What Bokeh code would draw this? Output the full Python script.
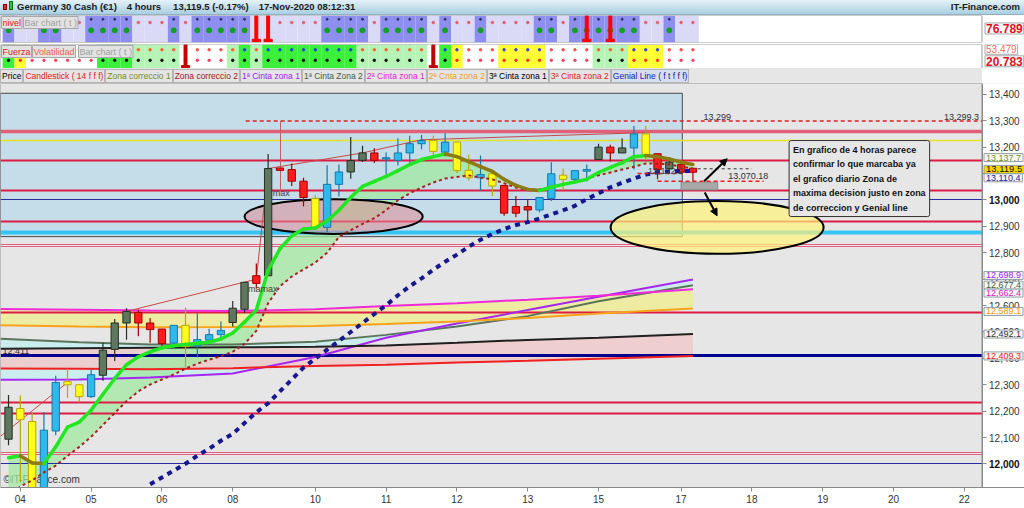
from bokeh.plotting import figure
from bokeh.models import (Range1d, FixedTicker, NumeralTickFormatter, Label, Div, Arrow,
                          NormalHead, LinearAxis)
from bokeh.layouts import column
from bokeh.embed import file_html
from bokeh.resources import INLINE

FONT = "Liberation Sans"

# ---------------- data ----------------
day_ticks = [1, 7, 13, 19, 26, 32, 38, 44, 50, 57, 63, 69, 75, 81]
day_labels = ["04", "05", "06", "08", "10", "11", "12", "13", "15", "17", "18", "19", "20", "22"]
price_ticks = [12000, 12100, 12200, 12300, 12400, 12500, 12600, 12700,
               12800, 12900, 13000, 13100, 13200, 13300, 13400]

# candle colour class: G dark green, Y yellow, C cyan, R red
candle_cat = list("GYYCCYYCGG" "GRRRCYCCCG" "GRGRRRYCCG" "GRCCCCYCYY" "CYRRRCCYCC" "GRGCYRGRR")
body_top = [12215, 12210, 12161, 12128, 12309, 12312, 12300, 12338, 12431, 12534,
            12578, 12574, 12534, 12511, 12525, 12525, 12471, 12490, 12506, 12590,
            12688, 12713, 13119, 13121, 13115, 13071, 13006, 13059, 13106, 13149,
            13178, 13178, 13160, 13178, 13213, 13225, 13225, 13219, 13219, 13112,
            13096, 13099, 13055, 12975, 12975, 13009, 13099, 13094, 13111, 13115,
            13200, 13200, 13197, 13250, 13250, 13175, 13143, 13134, 13120]
body_bottom = [12094, 12168, 11890, 11890, 12125, 12300, 12255, 12255, 12336, 12434,
               12534, 12534, 12509, 12456, 12458, 12445, 12447, 12469, 12490, 12536,
               12586, 12684, 12713, 13112, 13071, 13009, 12894, 12896, 13059, 13106,
               13150, 13150, 13155, 13150, 13178, 13213, 13184, 13181, 13112, 13084,
               13084, 13053, 12950, 12950, 12962, 12962, 13006, 13078, 13078, 13109,
               13153, 13178, 13178, 13197, 13171, 13115, 13118, 13105, 13105]
wick_high = [12261, 12259, 12195, 12196, 12334, 12362, 12300, 12359, 12459, 12549,
             12590, 12584, 12553, 12511, 12525, 12593, 12571, 12512, 12540, 12617,
             12688, 12759, 13174, 13121, 13138, 13084, 13018, 13131, 13134, 13238,
             13205, 13196, 13180, 13234, 13243, 13246, 13243, 13253, 13219, 13171,
             13168, 13099, 13055, 13015, 13003, 13009, 13143, 13119, 13111, 13134,
             13213, 13209, 13234, 13280, 13280, 13175, 13163, 13134, 13120]
wick_low = [12071, 11930, 11880, 11880, 12109, 12250, 12234, 12250, 12315, 12390,
            12471, 12484, 12459, 12446, 12437, 12365, 12403, 12452, 12471, 12521,
            12572, 12665, 12713, 13112, 13053, 12975, 12894, 12878, 13013, 13080,
            13144, 13140, 13096, 13130, 13135, 13192, 13169, 13165, 13102, 13074,
            13034, 13015, 12940, 12934, 12921, 12953, 12996, 13040, 13065, 13071,
            13153, 13146, 13178, 13115, 13153, 13078, 13103, 13105, 13071]

# fast band line (green rising / olive falling) and slow dotted line
fast_line = [12024, 12031, 12004, 12002, 12065, 12140, 12159, 12204, 12264, 12324,
             12376, 12406, 12425, 12440, 12448, 12453, 12457, 12461, 12474, 12496,
             12538, 12583, 12733, 12815, 12864, 12890, 12894, 12920, 12961, 13010,
             13051, 13070, 13089, 13111, 13134, 13153, 13164, 13174, 13164, 13145,
             13126, 13108, 13078, 13055, 13040, 13036, 13048, 13059, 13068, 13078,
             13104, 13123, 13141, 13164, 13168, 13164, 13155, 13143, 13134]
slow_line = [11878, 11915, 11938, 11968, 11994, 12031, 12065, 12103, 12148, 12193,
             12238, 12275, 12301, 12320, 12339, 12361, 12380, 12395, 12408, 12425,
             12455, 12504, 12609, 12673, 12710, 12737, 12763, 12800, 12860, 12886,
             12909, 12931, 12961, 12999, 13025, 13047, 13066, 13081, 13087, 13093,
             13085, 13078, 13063, 13047, 13038, 13040, 13050, 13059, 13070, 13081,
             13093, 13104, 13115, 13126, 13138, 13138, 13134, 13126, 13119]
# Genial line, from candle 12 on
genial_start = 12
genial_line = [11923, 11949, 11975, 12001, 12031, 12058, 12088, 12114, 12155, 12196,
               12230, 12275, 12320, 12365, 12399, 12433, 12466, 12500, 12534, 12568,
               12601, 12639, 12673, 12703, 12736, 12766, 12793, 12823, 12849, 12871,
               12890, 12905, 12916, 12930, 12945, 12961, 12978, 13003, 13025, 13048,
               13065, 13081, 13096, 13105, 13108, 13110, 13110]

# long term ribbons (sampled at these candle positions)
band_idx = [-0.68, 6, 12, 19, 26, 32, 38, 44, 50, 58]
band_magenta = [12587, 12584, 12581, 12579, 12586, 12598, 12609, 12622, 12637, 12662]
band_orange = [12525, 12521, 12518, 12519, 12523, 12530, 12540, 12553, 12570, 12589]
band_graygreen = [12474, 12461, 12453, 12453, 12463, 12489, 12521, 12560, 12616, 12677]
band_purple = [12319, 12320, 12328, 12343, 12405, 12478, 12532, 12583, 12633, 12699]
band_black = [12436, 12438, 12440, 12442, 12444, 12449, 12459, 12470, 12478, 12492]
band_red = [12362, 12361, 12359, 12363, 12371, 12376, 12384, 12391, 12399, 12409]

# horizontal levels
levels = [13258, 13227, 13150, 13034, 13000, 12917, 12878, 12833, 12822,
          12574, 12411, 12232, 12190, 12043, 12035, 12000]
level_kind = ["pink", "yellow", "red", "red", "navy", "red", "cyan", "pinkthin", "pinkthin",
              "red", "navythick", "red", "red", "pinkthin", "pinkthin", "navy"]
top_level = 13299.3

# right-side value boxes
right_values = [13137.7, 13110.4, 13119.5, 12698.9, 12677.4, 12662.4, 12589.1, 12492.1, 12409.3]

# indicator panels
row1_cat = list("DLLDDLLDDD" "DLLLDLDDDD" "DLLLLLLDDD" "DLDDDDLDLL" "DLLLLDDLDD" "DDDDLLDLL")
row1_bars = [21, 22, 49, 51]
row2_cat = list("GYWWWWWWGG" "GPPPPWWWWP" "GPGGGGGGGG" "PPPPPPWGYW" "WWYYYYWWWW" "PPPYYYWWW")
row2_bars = [15, 36]

idx = list(range(len(body_top)))
W = 1024
X0, XA = -0.68, 82.5                # left edge, price-scale position
X1 = X0 + W / 11.8                  # right edge (11.8 px per candle)
XR = Range1d(X0, X1)

# ---------------- header ----------------
header_html = (
    '<div style="position:relative;width:' + str(W) + 'px;height:15px;overflow:hidden;white-space:nowrap;'
    'background:linear-gradient(#e4f2f8,#a9cfe0);box-sizing:border-box;border-bottom:1px solid #8fb3c4;'
    "font:bold 9.5px 'Liberation Sans';color:#1a1a1a;line-height:14px\">"
    '<span style="position:absolute;left:3px;top:4px;width:4px;height:6px;background:#e03030;border:1px solid #800"></span>'
    '<span style="position:absolute;left:9px;top:1px;width:4px;height:9px;background:#30c030;border:1px solid #070"></span>'
    '<span style="position:absolute;left:17px">Germany 30 Cash (€1)'
    '<span style="margin-left:10px">4 hours</span>'
    '<span style="margin-left:12px">13,119.5 (-0.17%)</span>'
    '<span style="margin-left:10px">17-Nov-2020 08:12:31</span></span>'
    '<span style="position:absolute;right:4px">IT-Finance.com</span></div>'
)
header = Div(text=header_html, width=W, height=15, margin=0)

legend_items = [("Price", "#000000"), ("Candlestick ( 14 f f f)", "#e02020"),
                ("Zona correccio 1", "#7a8a10"), ("Zona correccio 2", "#a01818"),
                ("1ª Cinta zona 1", "#a020f0"), ("1ª Cinta Zona 2", "#3f5f3f"),
                ("2ª Cinta zona 1", "#e020d0"), ("2ª Cnta zona 2", "#f0a020"),
                ("3ª Cinta zona 1", "#000000"), ("3ª Cinta zona 2", "#e02020"),
                ("Genial Line ( f t f f f)", "#1a1aa0")]
spans = "".join(
    '<span style="display:inline-block;box-sizing:border-box;height:14px;line-height:12px;'
    'border:1px solid #b4b4b4;padding:0 1px;color:' + c + ';background:'
    + ("#d6dff0" if t.startswith("Genial") else "#e4e4e4") + '">' + t + '</span>'
    for t, c in legend_items)
legend_html = ('<div style="width:982px;height:15px;overflow:hidden;white-space:nowrap;background:#e6e6e6;'
               "padding-top:1px;box-sizing:border-box;font:8.5px 'Liberation Sans'\">" + spans + '</div>')
legend = Div(text=legend_html, width=W, height=15, margin=0)


# ---------------- indicator rows ----------------
def ind_fig(h, bottom_gap):
    f = figure(frame_width=W, frame_height=h, x_range=XR, y_range=Range1d(0, 100),
               output_backend="svg", toolbar_location=None, x_axis_location=None,
               y_axis_location=None, min_border_left=0, min_border_right=0,
               min_border_top=0, min_border_bottom=bottom_gap,
               background_fill_color="white", border_fill_color="white",
               outline_line_color=None)
    f.grid.visible = False
    return f


def box_label(f, x, y, text, color, xo=0, yo=0, size="9px", bold=False, bg="#e2e2e2",
              align="left", base="top"):
    f.add_layout(Label(x=x, y=y, x_offset=xo, y_offset=yo, text=text, text_color=color,
                       text_font=FONT, text_font_size=size,
                       text_font_style="bold" if bold else "normal",
                       text_align=align, text_baseline=base,
                       background_fill_color=bg, border_line_color="#a8a8a8", padding=1))


r1 = ind_fig(27, 2)
c1 = {"D": "#8e8ef0", "L": "#dadaf7"}
r1.vbar(x=idx, width=1.0, top=100, bottom=0, fill_color=[c1[c] for c in row1_cat], line_color=None)
dk = [i for i, c in enumerate(row1_cat) if c == "D"]
lt = [i for i, c in enumerate(row1_cat) if c == "L"]
r1.scatter(x=dk, y=[45] * len(dk), size=5, color="#11a022")
r1.scatter(x=dk, y=[86] * len(dk), size=2, color="#303060")
r1.scatter(x=lt, y=[74] * len(lt), size=2.5, color="#e06070")
r1.vbar(x=row1_bars, width=0.25, top=100, bottom=4, color="#ff0000")
r1.vbar(x=row1_bars, width=0.7, top=12, bottom=3, color="#ff0000")
r1.quad(left=X0, right=XA, top=100, bottom=0, fill_color=None, line_color="#9a9a9a")
box_label(r1, X0, 100, "nivel", "#e02020", xo=1, yo=-1)
box_label(r1, X0, 100, "Bar chart ( t )", "#a0a0a0", xo=23, yo=-1)
box_label(r1, XA, 52, "76.789", "#e01020", xo=3, size="12px", bold=True, bg="white", base="middle")

r2 = ind_fig(24, 0)
c2 = {"G": "#3af03a", "P": "#b6f4b6", "W": "#ffffff", "Y": "#ffff33"}
top_dot = {"G": "#2040e0", "P": "#ff6030", "W": "#ff5050", "Y": "#4040e0"}
bot_dot = {"G": "#111111", "P": "#111111", "W": "#ff4060", "Y": "#ff3030"}
r2.vbar(x=idx, width=1.0, top=100, bottom=0, fill_color=[c2[c] for c in row2_cat], line_color=None)
r2.scatter(x=idx, y=[78] * len(idx), size=2.5, color=[top_dot[c] for c in row2_cat])
r2.scatter(x=idx, y=[34] * len(idx), size=2.5, color=[bot_dot[c] for c in row2_cat])
r2.vbar(x=row2_bars, width=0.25, top=100, bottom=4, color="#c00000")
r2.vbar(x=row2_bars, width=0.7, top=12, bottom=3, color="#c00000")
r2.quad(left=X0, right=XA, top=100, bottom=0, fill_color=None, line_color="#9a9a9a")
box_label(r2, X0, 100, "Fuerza", "#e02020", xo=1, yo=-1)
box_label(r2, X0, 100, "Volatilidad", "#f06050", xo=32, yo=-1)
box_label(r2, X0, 100, "Bar chart ( t )", "#a0a0a0", xo=78, yo=-1)
box_label(r2, XA, 80, "53.479", "#f07060", xo=3, size="10px", bg="white", base="middle")
box_label(r2, XA, 30, "20.783", "#e01020", xo=3, size="12px", bold=True, bg="white", base="middle")

# ---------------- main chart ----------------
p = figure(width=W, frame_height=404, x_range=XR, y_range=Range1d(11911, 13441),
           output_backend="svg", toolbar_location=None, y_axis_location=None,
           min_border_left=0, min_border_right=0, min_border_top=0, min_border_bottom=0,
           background_fill_color="#e6e6e6", border_fill_color="white",
           outline_line_color=None)
p.grid.visible = False

p.add_layout(Label(x=X0, y=11911, x_offset=3, y_offset=3, text="©IT-Finance.com",
                   text_font=FONT, text_font_size="10px", text_color="#333333",
                   text_baseline="bottom", level="underlay"))

# light blue zone
p.quad(left=X0, right=57.1, top=13404, bottom=12861, fill_color="#c4dde8",
       line_color="#4a4a4a", line_width=1)

# ribbons
p.varea(x=band_idx, y1=band_purple, y2=band_graygreen, fill_color="#c9edee", fill_alpha=0.9)
p.varea(x=band_idx, y1=band_red, y2=band_black, fill_color="#eecbcb", fill_alpha=0.9)
p.varea(x=band_idx, y1=band_orange, y2=band_magenta, fill_color="#eeeb9f", fill_alpha=0.95)
p.varea(x=idx, y1=slow_line, y2=fast_line, fill_color="#a2e8a2", fill_alpha=0.75)

# horizontal levels
kind_style = {"red": ("#dc1c44", 1.8), "pink": ("#e0607a", 3.5), "yellow": ("#e4e428", 1.5),
              "navy": ("#2b2ba0", 1.2), "navythick": ("#00008e", 3), "cyan": ("#36c4f4", 4),
              "pinkthin": ("#e66080", 1.2)}
p.hspan(y=levels, line_color=[kind_style[k][0] for k in level_kind],
        line_width=[kind_style[k][1] for k in level_kind])
p.segment(x0=20.1, y0=top_level, x1=XA, y1=top_level, line_color="#e02020",
          line_width=1.5, line_dash="4 3")

# ribbon lines
p.line(band_idx, band_graygreen, line_color="#5a755a", line_width=2)
p.line(band_idx, band_purple, line_color="#a626f2", line_width=2)
p.line(band_idx, band_orange, line_color="#f7a21a", line_width=2)
p.line(band_idx, band_magenta, line_color="#f02ad8", line_width=2)
p.line(band_idx, band_black, line_color="#202020", line_width=2)
p.line(band_idx, band_red, line_color="#f02020", line_width=2)

# ellipses / annotation boxes
p.ellipse(x=[27.55, 60.05], y=[12937, 12896], width=[15.1, 18.05], height=[131, 200],
          fill_color=["#e08c98", "#fff27a"], fill_alpha=[0.55, 0.7],
          line_color="black", line_width=2)
p.quad(left=57.0, right=60.1, top=13067, bottom=13038, fill_color="#a8a8a8", line_color="#8a8a8a")

# zigzag of highs
p.line([X0, 5.0], [12105, 12309], line_color="#c84848", line_width=1)
p.line([10, 21, 22, 30, 35, 54], [12578, 12700, 13119, 13178, 13228, 13255],
       line_color="#c84848", line_width=1)
p.segment(x0=23.05, y0=top_level, x1=23.05, y1=13029, line_color="#c06060", line_width=1)

# candles
fill = {"G": "#5f765f", "Y": "#ffff1a", "C": "#2fb9ea", "R": "#ff1c1c"}
edge = {"G": "#243024", "Y": "#b8a800", "C": "#1479aa", "R": "#a00000"}
p.segment(x0=idx, y0=wick_low, x1=idx, y1=wick_high, line_color=[edge[c] for c in candle_cat],
          line_width=1.2)
p.vbar(x=idx, width=0.62, top=body_top, bottom=body_bottom,
       fill_color=[fill[c] for c in candle_cat], line_color=[edge[c] for c in candle_cat],
       line_width=1)

# fast / slow lines
seg_col = ["#22e622" if fast_line[i + 1] >= fast_line[i] else "#8c7a12" for i in range(len(idx) - 1)]
p.line(idx, slow_line, line_color="#a82020", line_width=2, line_dash="3 3")
p.segment(x0=idx[:-1], y0=fast_line[:-1], x1=idx[1:], y1=fast_line[1:], line_color=seg_col,
          line_width=3.5, line_cap="round")
gidx = list(range(genial_start, genial_start + len(genial_line)))
p.line(gidx, genial_line, line_color="#16168e", line_width=4, line_dash="5 5")

# short projection lines
p.segment(x0=[53.3, 55.0], y0=[13100, 13071], x1=[57.1, 64.0], y1=[13100, 13071],
          line_color="#e82020", line_width=1.5, line_dash="4 3")
p.segment(x0=58.4, y0=13118, x1=63.0, y1=13118, line_color="#333333", line_width=1, line_dash="3 3")

# white price-scale area and plot border
p.quad(left=XA, right=X1, top=13441, bottom=11911, fill_color="white", line_color=None)
p.quad(left=X0, right=XA, top=13441, bottom=11911, fill_color=None, line_color="#8a8a8a")

p.add_layout(Arrow(end=NormalHead(size=7, fill_color="black", line_color="black"),
                   x_start=58.95, y_start=13071, x_end=60.9, y_end=13156, line_width=2))
p.add_layout(Arrow(end=NormalHead(size=7, fill_color="black", line_color="black"),
                   x_start=59.0, y_start=13028, x_end=60.05, y_end=12940, line_width=2))


def txt(x, y, text, size="9px", color="#303030", align="left", base="bottom", xo=0, yo=0, style="normal"):
    p.add_layout(Label(x=x, y=y, x_offset=xo, y_offset=yo, text=text, text_font=FONT,
                       text_font_size=size, text_color=color, text_align=align,
                       text_baseline=base, text_font_style=style))


txt(58.9, top_level, "13,299", yo=1)
txt(XA, top_level, "13,299.3", align="right", xo=-3, yo=1)
txt(22.4, 13025, "max", base="middle", color="#404040")
txt(20.3, 12661, "mamax", base="middle", color="#404040")
txt(X0, 12411, "12,411", xo=2, yo=1)
txt(54.2, 13110, "13,122.2", base="middle", color="#404040")
txt(61.0, 13071, "13,070.18", yo=2)

note = ("En grafico de 4 horas parece\nconfirmar lo que marcaba ya\nel grafico diario Zona de\n"
        "maxima decision justo en zona\nde correccion y Genial line")
p.add_layout(Label(x=66.15, y=13225, text=note, text_font=FONT, text_font_size="9px",
                   text_font_style="bold", text_color="#111111", text_align="left",
                   text_baseline="top", text_line_height=1.45, background_fill_color="#e6e6e6",
                   border_line_color="#303030", border_line_width=1, padding=4, border_radius=2))

# axes
yax = LinearAxis(fixed_location=XA, ticker=FixedTicker(ticks=price_ticks),
                 formatter=NumeralTickFormatter(format="0,0"),
                 major_label_overrides={12000: "", 13000: ""})
p.add_layout(yax, "right")
p.xaxis.ticker = FixedTicker(ticks=day_ticks)
p.xaxis.major_label_overrides = dict(zip(day_ticks, day_labels))
for ax in (p.xaxis[0], yax):
    ax.major_label_text_font = FONT
    ax.major_label_text_font_size = "10px"
    ax.major_label_text_color = "#333333"
    ax.axis_line_color = "#8a8a8a"
    ax.major_tick_line_color = "#8a8a8a"
    ax.major_tick_out = 4
    ax.major_tick_in = 0
    ax.minor_tick_line_color = None
    ax.major_label_standoff = 3
for v in (12000, 13000):
    p.add_layout(Label(x=XA, y=v, x_offset=7, text=f"{v:,}", text_font=FONT,
                       text_font_size="10px", text_font_style="bold", text_color="#111111",
                       text_baseline="middle"))

# value boxes on the price scale
rv_color = ["#7a9020", "#2020a0", "#111111", "#a020f0", "#3f5f3f", "#e020c0", "#f0a000",
            "#333333", "#e82020"]
rv_shift = [6, -7, -1, 4, 0, -4, -3, 0, 0]
for v, c, s in zip(right_values, rv_color, rv_shift):
    p.add_layout(Label(x=XA, y=v, x_offset=2, y_offset=s, text=f"{v:,.1f}", text_font=FONT,
                       text_font_size="9.5px" if v == 13119.5 else "9px", text_color=c,
                       text_baseline="middle",
                       background_fill_color="#ffd700" if v == 13119.5 else "#f6f6f6",
                       border_line_color="#90a0a8", padding=(2, 1)))

layout = column(header, r1, r2, legend, p, spacing=0)
open("out.html", "w").write(file_html(layout, INLINE))
